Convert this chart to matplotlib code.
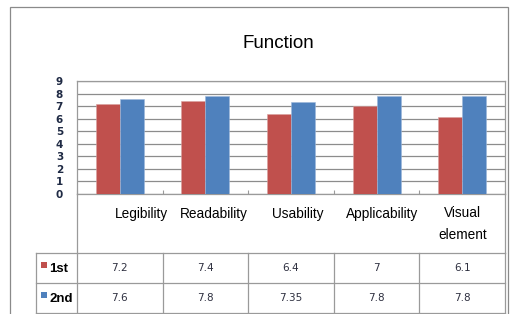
import numpy as np
import matplotlib
matplotlib.use('Agg')
import matplotlib.pyplot as plt
from matplotlib.lines import Line2D
from matplotlib.patches import Rectangle
from matplotlib.transforms import blended_transform_factory

plt.rcParams['font.family'] = ['Liberation Sans', 'DejaVu Sans']

categories = ['Legibility', 'Readability', 'Usability', 'Applicability', 'Visual\nelement']
series_names = ['1st', '2nd']
first = [7.2, 7.4, 6.4, 7, 6.1]
second = [7.6, 7.8, 7.35, 7.8, 7.8]
first_txt = ['7.2', '7.4', '6.4', '7', '6.1']
second_txt = ['7.6', '7.8', '7.35', '7.8', '7.8']
yticks = list(range(0, 10))

RED = '#C0504D'
BLUE = '#4F81BD'
GRID = '#8C8C8C'
LINE = '#9A9A9A'
W, H = 519, 314

fig = plt.figure(figsize=(W / 100, H / 100), dpi=100, facecolor='white')

def fx(x):
    return x / W

def fy(y):
    return 1 - y / H

# outer chart border
fig.add_artist(Rectangle((fx(10), fy(330)), fx(498), (330 - 7) / H,
                         transform=fig.transFigure, fill=False,
                         ec='#8A8A8A', lw=0.9))

fig.text(fx(278), fy(43), 'Function', ha='center', va='center', fontsize=13.5)

ax = fig.add_axes([fx(77), fy(194), fx(505 - 77), (194 - 81) / H])
x = np.arange(len(categories))
bw = 0.28
ax.bar(x - bw / 2, first, bw, color=RED, edgecolor='#D9A09E', lw=0.4, zorder=3)
ax.bar(x + bw / 2, second, bw, color=BLUE, edgecolor='#9DB7DA', lw=0.4, zorder=3)
ax.set_xlim(-0.5, len(categories) - 0.5)
ax.set_ylim(0, 9)
ax.set_yticks(yticks)
ax.set_yticklabels([str(t) for t in yticks], fontsize=7.5, fontweight='bold',
                   color='#1F2A44', family='DejaVu Sans')
ax.yaxis.grid(True, color=GRID, lw=0.9, zorder=0)
ax.set_xticks(np.arange(len(categories) + 1) - 0.5)
ax.set_xticklabels([])
ax.tick_params(axis='x', length=3, direction='in', color=LINE)
ax.tick_params(axis='y', length=0, pad=10)
for s in ax.spines.values():
    s.set_color(LINE)
    s.set_linewidth(0.9)

# data table below the plot
tr = blended_transform_factory(ax.transData, fig.transFigure)
edges = np.arange(len(categories) + 1) - 0.5
row_top, row1, row2, row3 = 194, 253, 283, 313

# left and right edges of the header row
for e in (edges[0], edges[-1]):
    ax.add_line(Line2D([e, e], [fy(row_top), fy(row1)], transform=tr,
                       color=LINE, lw=0.9, clip_on=False))
# horizontal rules
for yy in (row1, row2, row3):
    fig.add_artist(Line2D([fx(36), fx(505)], [fy(yy), fy(yy)],
                          transform=fig.transFigure, color=LINE, lw=0.9))
# vertical rules of data rows
fig.add_artist(Line2D([fx(36), fx(36)], [fy(row1), fy(row3)],
                      transform=fig.transFigure, color=LINE, lw=0.9))
for e in edges:
    ax.add_line(Line2D([e, e], [fy(row1), fy(row3)], transform=tr,
                       color=LINE, lw=0.9, clip_on=False))

label_shift = [0.25, 0.1, 0.08, 0.06, 0.0]
for i, c in enumerate(categories):
    ax.text(i + label_shift[i], fy(224) if '\n' in c else fy(214), c,
            transform=tr, ha='center', va='center', fontsize=9.8,
            linespacing=1.65, color='black')

for row, vals, col, name in ((row1, first_txt, RED, series_names[0]),
                             (row2, second_txt, BLUE, series_names[1])):
    yc = (row + row + 30) / 2
    for i, v in enumerate(vals):
        ax.text(i, fy(yc), v, transform=tr, ha='center', va='center',
                fontsize=7.5, color='#2E3040', family='DejaVu Sans')
    fig.add_artist(Rectangle((fx(41), fy(row + 15)), fx(6), 6 / H,
                             transform=fig.transFigure, color=col, lw=0))
    fig.text(fx(49), fy(row + 16), name, ha='left', va='center',
             fontsize=9.5, fontweight='bold')

fig.savefig('out.png', dpi=100, facecolor='white')
